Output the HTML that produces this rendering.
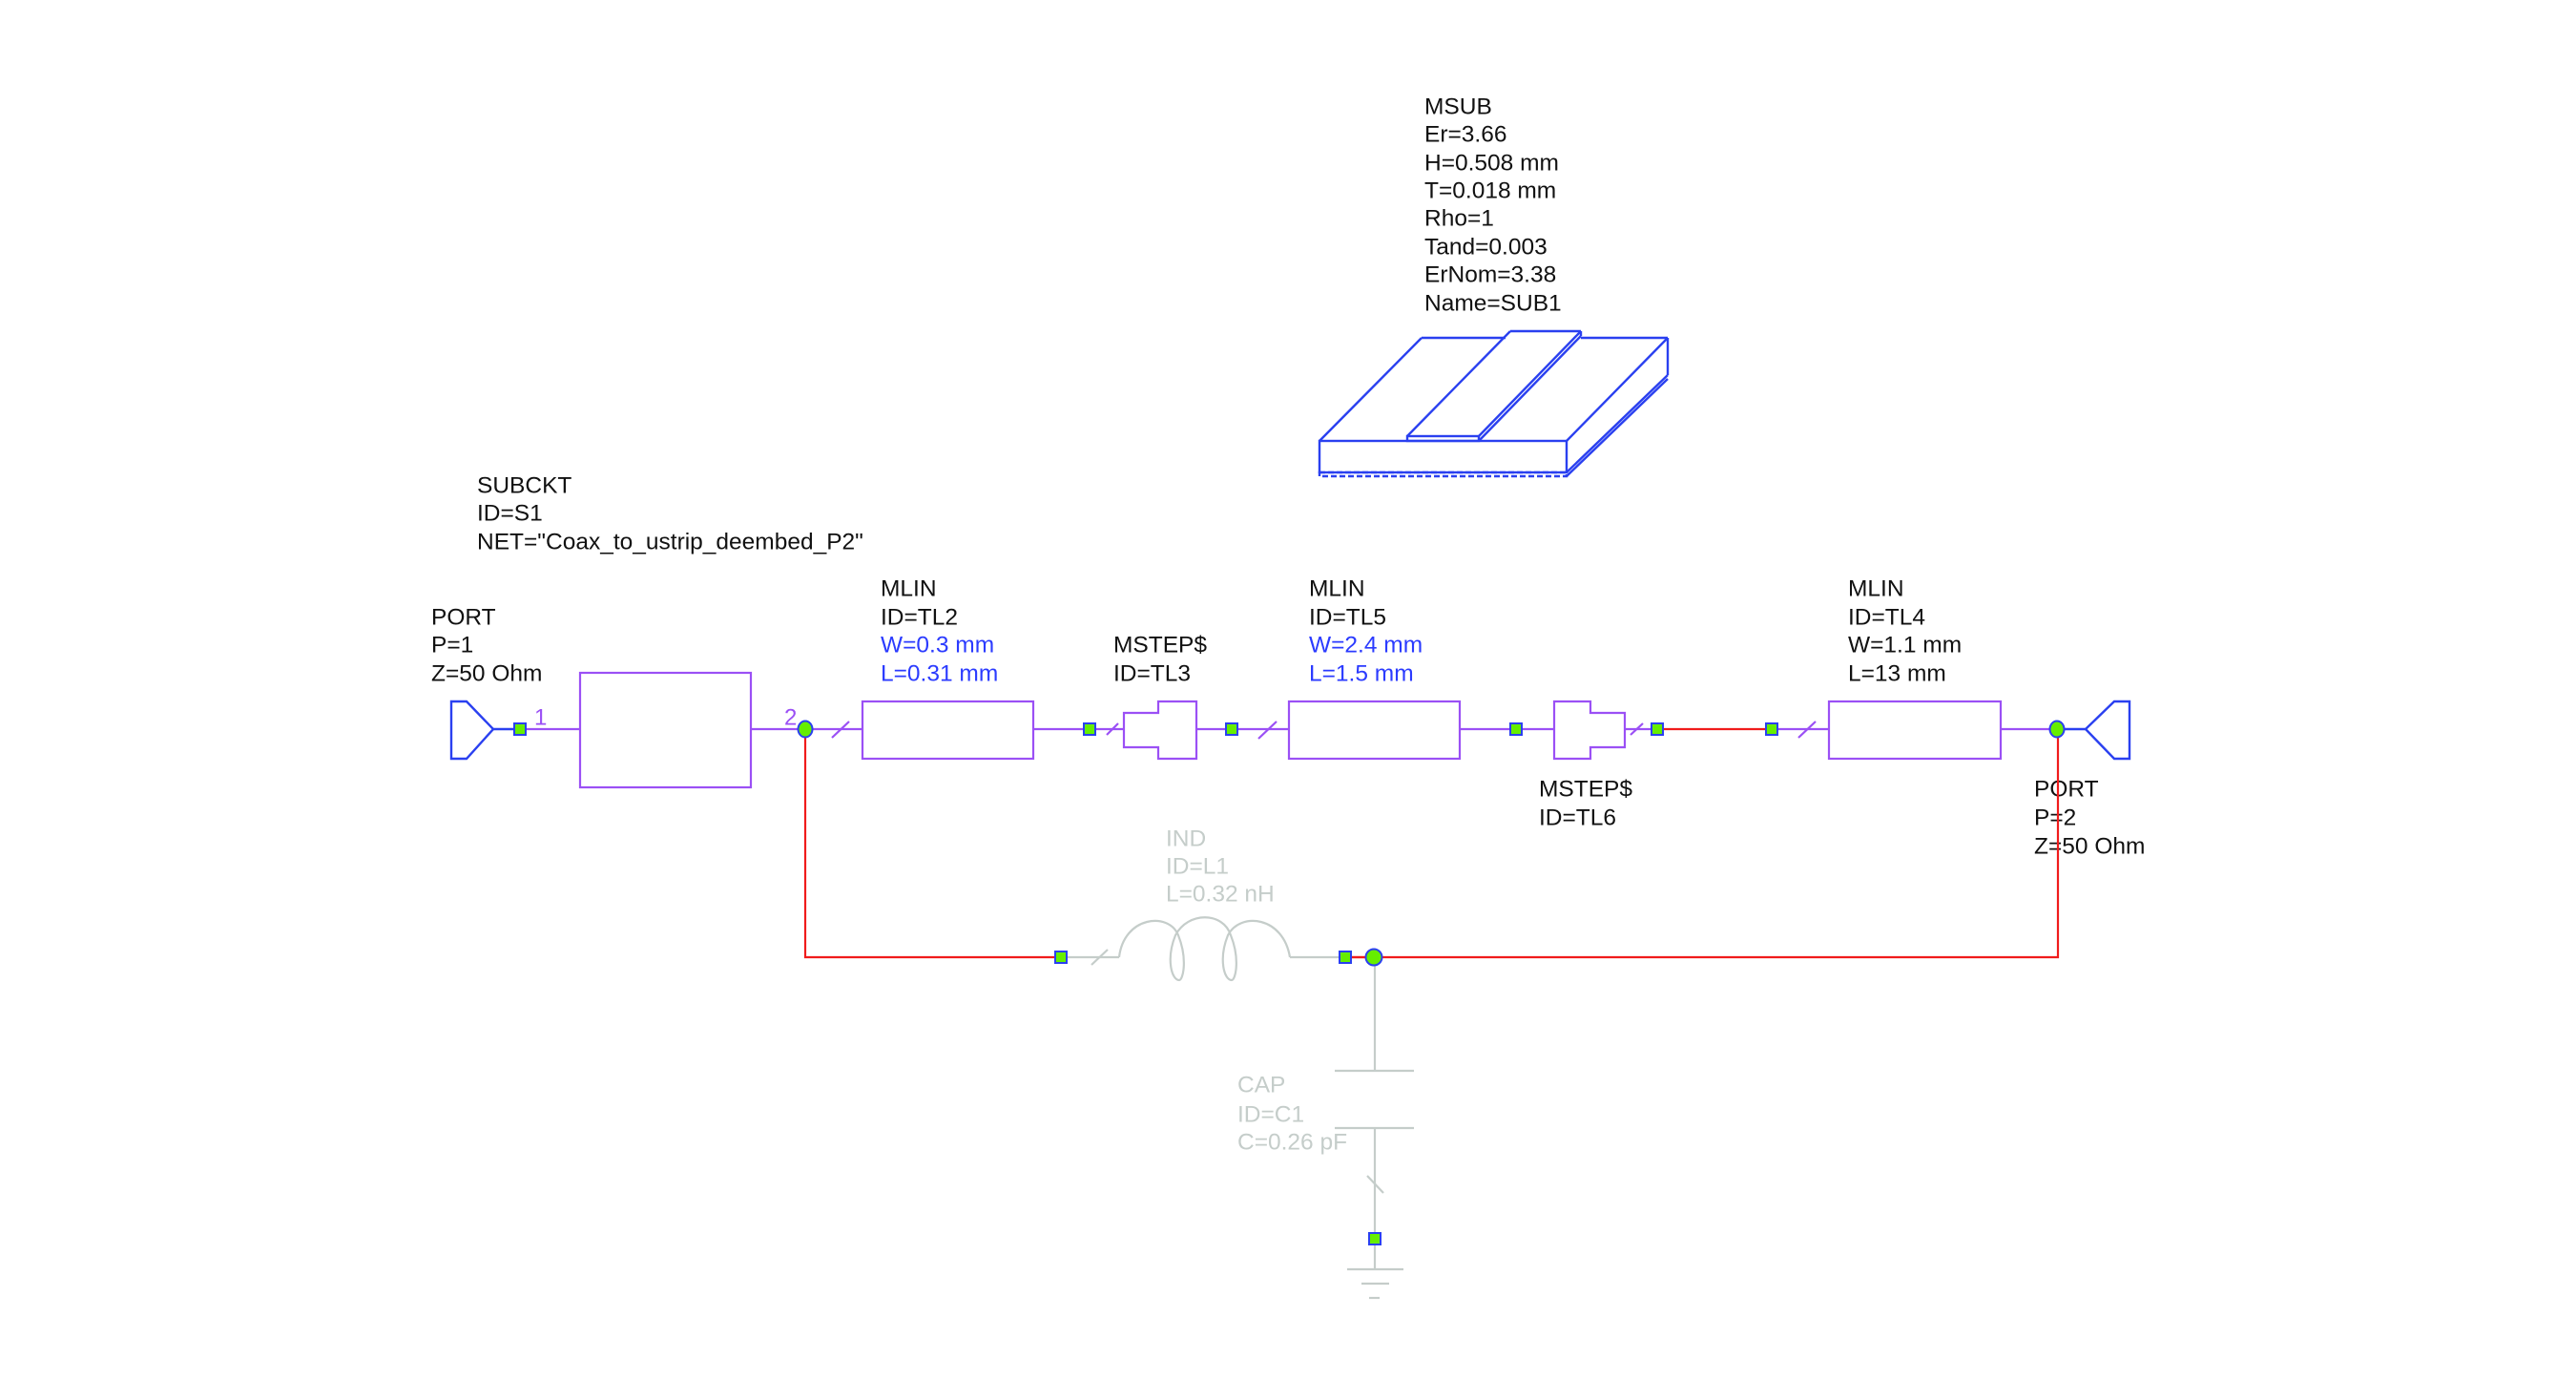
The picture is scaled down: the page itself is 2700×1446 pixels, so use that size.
<!DOCTYPE html>
<html><head><meta charset="utf-8"><style>
html,body{margin:0;padding:0;background:#fff}
svg{display:block}
text{font-family:"Liberation Sans",sans-serif;font-size:24.5px;dominant-baseline:central}
.k{fill:#111}.b{fill:#2b3bff}.g{fill:#c5cdca}
.p{stroke:#9b50f5;stroke-width:2.2;fill:none}
.bl{stroke:#2a40f0;stroke-width:2.4;fill:none}
.r{stroke:#f01c1c;stroke-width:2.2;fill:none}
.gr{stroke:#c5cdca;stroke-width:2.2;fill:none}
.n{fill:#66ee00;stroke:#2a40f0;stroke-width:2}
</style></head><body>
<svg width="2700" height="1446" viewBox="0 0 2700 1446" xmlns="http://www.w3.org/2000/svg">
<text class="k" x="1493" y="112">MSUB</text>
<text class="k" x="1493" y="141">Er=3.66</text>
<text class="k" x="1493" y="171">H=0.508 mm</text>
<text class="k" x="1493" y="200">T=0.018 mm</text>
<text class="k" x="1493" y="229">Rho=1</text>
<text class="k" x="1493" y="259">Tand=0.003</text>
<text class="k" x="1493" y="288">ErNom=3.38</text>
<text class="k" x="1493" y="318">Name=SUB1</text>
<g class="bl">
<rect x="1383" y="462" width="259" height="33" />
<rect x="1383" y="495" width="259" height="4" stroke-dasharray="6 3"/>
<line x1="1383" y1="462" x2="1490" y2="354"/>
<line x1="1490" y1="354" x2="1578" y2="354"/>
<line x1="1657" y1="354" x2="1748" y2="354"/>
<line x1="1748" y1="354" x2="1748" y2="393"/>
<line x1="1642" y1="462" x2="1748" y2="354"/>
<line x1="1642" y1="495" x2="1748" y2="393"/>
<line x1="1642" y1="499" x2="1748" y2="397"/>
<rect x="1475" y="457" width="75" height="5"/>
<line x1="1475" y1="457" x2="1583" y2="347"/>
<line x1="1583" y1="347" x2="1657" y2="347"/>
<line x1="1550" y1="457" x2="1657" y2="347"/>
<line x1="1550" y1="462" x2="1657" y2="352"/>
<line x1="1657" y1="347" x2="1657" y2="352"/>
</g>
<text class="k" x="500" y="509">SUBCKT</text>
<text class="k" x="500" y="538">ID=S1</text>
<text class="k" x="500" y="568">NET="Coax_to_ustrip_deembed_P2"</text>
<text class="k" x="452" y="647">PORT</text>
<text class="k" x="452" y="676">P=1</text>
<text class="k" x="452" y="706">Z=50 Ohm</text>
<text class="k" x="923" y="617">MLIN</text>
<text class="k" x="923" y="647">ID=TL2</text>
<text class="b" x="923" y="676">W=0.3 mm</text>
<text class="b" x="923" y="706">L=0.31 mm</text>
<text class="k" x="1167" y="676">MSTEP$</text>
<text class="k" x="1167" y="706">ID=TL3</text>
<text class="k" x="1372" y="617">MLIN</text>
<text class="k" x="1372" y="647">ID=TL5</text>
<text class="b" x="1372" y="676">W=2.4 mm</text>
<text class="b" x="1372" y="706">L=1.5 mm</text>
<text class="k" x="1937" y="617">MLIN</text>
<text class="k" x="1937" y="647">ID=TL4</text>
<text class="k" x="1937" y="676">W=1.1 mm</text>
<text class="k" x="1937" y="706">L=13 mm</text>
<text class="k" x="1613" y="827">MSTEP$</text>
<text class="k" x="1613" y="857">ID=TL6</text>
<text class="k" x="2132" y="827">PORT</text>
<text class="k" x="2132" y="857">P=2</text>
<text class="k" x="2132" y="887">Z=50 Ohm</text>
<text class="g" x="1222" y="879">IND</text>
<text class="g" x="1222" y="908">ID=L1</text>
<text class="g" x="1222" y="937">L=0.32 nH</text>
<text class="g" x="1297" y="1137">CAP</text>
<text class="g" x="1297" y="1168">ID=C1</text>
<text class="g" x="1297" y="1197">C=0.26 pF</text>
<text x="560" y="752" style="fill:#9b50f5;font-size:24px">1</text>
<text x="822" y="752" style="fill:#9b50f5;font-size:24px">2</text>
<g class="p">
<line x1="545" y1="764" x2="608" y2="764"/>
<rect x="608" y="705" width="179" height="120"/>
<line x1="787" y1="764" x2="904" y2="764"/>
<line x1="872" y1="773" x2="890" y2="756"/>
<rect x="904" y="735" width="179" height="60"/>
<line x1="1083" y1="764" x2="1178" y2="764"/>
<line x1="1160" y1="770" x2="1172" y2="758"/>
<path d="M1178 747 H1214 V735 H1254 V795 H1214 V783 H1178 Z"/>
<line x1="1254" y1="764" x2="1351" y2="764"/>
<line x1="1319" y1="774" x2="1338" y2="756"/>
<rect x="1351" y="735" width="179" height="60"/>
<line x1="1530" y1="764" x2="1629" y2="764"/>
<path d="M1629 735 H1667 V747 H1703 V783 H1667 V795 H1629 Z"/>
<line x1="1703" y1="764" x2="1737" y2="764"/>
<line x1="1709" y1="770" x2="1722" y2="758"/>
<line x1="1857" y1="764" x2="1917" y2="764"/>
<line x1="1885" y1="773" x2="1903" y2="756"/>
<rect x="1917" y="735" width="180" height="60"/>
<line x1="2097" y1="764" x2="2155" y2="764"/>
</g>
<g class="r">
<line x1="1737" y1="764" x2="1857" y2="764"/>
<polyline points="844,764 844,1003 1112,1003"/>
<polyline points="1410,1003 2157,1003 2157,764"/>
</g>
<g class="bl">
<path d="M473 735 H489 L517 764 L489 795 H473 Z"/>
<line x1="517" y1="764" x2="545" y2="764"/>
<path d="M2232 735 H2216 L2186 764 L2216 795 H2232 Z"/>
<line x1="2155" y1="764" x2="2186" y2="764"/>
</g>
<g class="gr">
<line x1="1112" y1="1003" x2="1173" y2="1003"/>
<line x1="1144" y1="1011" x2="1161" y2="995"/>
<path d="M1173 1003 C1178 960, 1225 955, 1235 980 C1245 1005, 1240 1027, 1236 1027 C1228 1027, 1222 1005, 1232 980 C1245 955, 1282 955, 1290 980 C1300 1005, 1295 1027, 1291 1027 C1283 1027, 1277 1005, 1287 980 C1300 955, 1345 960, 1352 1003"/>
<line x1="1352" y1="1003" x2="1410" y2="1003"/>
<line x1="1441" y1="1003" x2="1441" y2="1122"/>
<line x1="1399" y1="1122" x2="1482" y2="1122"/>
<line x1="1399" y1="1182" x2="1482" y2="1182"/>
<line x1="1441" y1="1182" x2="1441" y2="1330"/>
<line x1="1433" y1="1232" x2="1450" y2="1250"/>
<line x1="1412" y1="1330" x2="1471" y2="1330"/>
<line x1="1427" y1="1345" x2="1456" y2="1345"/>
<line x1="1435" y1="1360" x2="1446" y2="1360"/>
</g>
<line class="r" x1="1410" y1="1003" x2="1439" y2="1003"/>
<rect class="n" x="539" y="758" width="12" height="12"/>
<rect class="n" x="1136" y="758" width="12" height="12"/>
<rect class="n" x="1285" y="758" width="12" height="12"/>
<rect class="n" x="1583" y="758" width="12" height="12"/>
<rect class="n" x="1731" y="758" width="12" height="12"/>
<rect class="n" x="1851" y="758" width="12" height="12"/>
<rect class="n" x="1106" y="997" width="12" height="12"/>
<rect class="n" x="1404" y="997" width="12" height="12"/>
<rect class="n" x="1435" y="1292" width="12" height="12"/>
<ellipse class="n" cx="844" cy="764" rx="7.5" ry="8.5"/>
<ellipse class="n" cx="2156" cy="764" rx="7.5" ry="8.5"/>
<circle class="n" cx="1440" cy="1003" r="8.5"/>
</svg>
</body></html>
